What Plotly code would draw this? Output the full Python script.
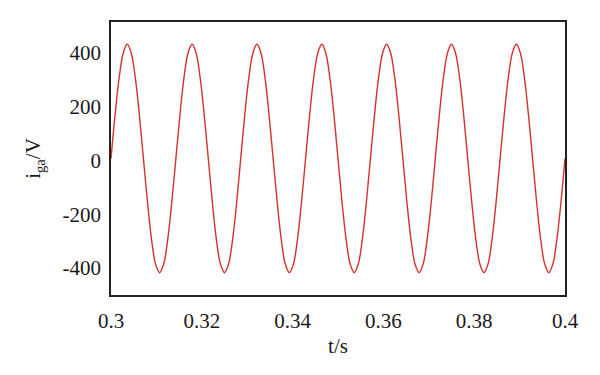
import plotly.graph_objects as go

# time samples (s) and waveform values (V)
t = [0.30000, 0.30089, 0.30179, 0.30268, 0.30357, 0.30446, 0.30536, 0.30625,
     0.30714, 0.30804, 0.30893, 0.30982, 0.31071, 0.31161, 0.31250, 0.31339,
     0.31429, 0.31518, 0.31607, 0.31696, 0.31786, 0.31875, 0.31964, 0.32054,
     0.32143, 0.32232, 0.32321, 0.32411, 0.32500, 0.32589, 0.32679, 0.32768,
     0.32857, 0.32946, 0.33036, 0.33125, 0.33214, 0.33304, 0.33393, 0.33482,
     0.33571, 0.33661, 0.33750, 0.33839, 0.33929, 0.34018, 0.34107, 0.34196,
     0.34286, 0.34375, 0.34464, 0.34554, 0.34643, 0.34732, 0.34821, 0.34911,
     0.35000, 0.35089, 0.35179, 0.35268, 0.35357, 0.35446, 0.35536, 0.35625,
     0.35714, 0.35804, 0.35893, 0.35982, 0.36071, 0.36161, 0.36250, 0.36339,
     0.36429, 0.36518, 0.36607, 0.36696, 0.36786, 0.36875, 0.36964, 0.37054,
     0.37143, 0.37232, 0.37321, 0.37411, 0.37500, 0.37589, 0.37679, 0.37768,
     0.37857, 0.37946, 0.38036, 0.38125, 0.38214, 0.38304, 0.38393, 0.38482,
     0.38571, 0.38661, 0.38750, 0.38839, 0.38929, 0.39018, 0.39107, 0.39196,
     0.39286, 0.39375, 0.39464, 0.39554, 0.39643, 0.39732, 0.39821, 0.39911,
     0.40000]
i_ga = [7, 169, 307, 399, 432, 399, 307, 169, 7, -155, -293, -385, -417, -385, -293, -155,
        7, 169, 307, 399, 432, 399, 307, 169, 7, -155, -293, -385, -417, -385, -293, -155,
        7, 169, 307, 399, 432, 399, 307, 169, 7, -155, -293, -385, -417, -385, -293, -155,
        7, 169, 307, 399, 432, 399, 307, 169, 7, -155, -293, -385, -417, -385, -293, -155,
        7, 169, 307, 399, 432, 399, 307, 169, 7, -155, -293, -385, -417, -385, -293, -155,
        7, 169, 307, 399, 432, 399, 307, 169, 7, -155, -293, -385, -417, -385, -293, -155,
        7, 169, 307, 399, 432, 399, 307, 169, 7, -155, -293, -385, -417, -385, -293, -155,
        7]

x_ticks = [0.30, 0.32, 0.34, 0.36, 0.38, 0.40]
x_labels = ["0.3", "0.32", "0.34", "0.36", "0.38", "0.4"]
y_ticks = [400, 200, 0, -200, -400]
y_labels = ["400", "200", "0", "-200", "-400"]

fig = go.Figure()
fig.add_trace(go.Scatter(
    x=t, y=i_ga, mode="lines",
    line=dict(color="#d9302a", width=1.4, shape="spline", smoothing=1.0),
    showlegend=False,
))

font = dict(family="Liberation Serif", size=21, color="#1a1a1a")

fig.update_layout(
    width=600, height=375,
    margin=dict(l=111, r=35, t=22, b=80),
    paper_bgcolor="white", plot_bgcolor="white",
    font=font,
    xaxis=dict(
        range=[0.3, 0.4], tickvals=x_ticks, ticktext=x_labels,
        showgrid=False, zeroline=False, ticks="outside", ticklen=6, tickcolor="rgba(0,0,0,0)",
        showline=True, linecolor="#222", linewidth=1.5, mirror=True,
        title=dict(text="t/s", font=font, standoff=6),
        tickfont=font,
    ),
    yaxis=dict(
        range=[-500, 515], tickvals=y_ticks, ticktext=y_labels,
        showgrid=False, zeroline=False, ticks="outside", ticklen=4, tickcolor="rgba(0,0,0,0)",
        showline=True, linecolor="#222", linewidth=1.5, mirror=True,
        title=dict(text="i<sub>ga</sub>/V", font=font, standoff=16),
        tickfont=font,
    ),
)

fig.write_html("out.html")
